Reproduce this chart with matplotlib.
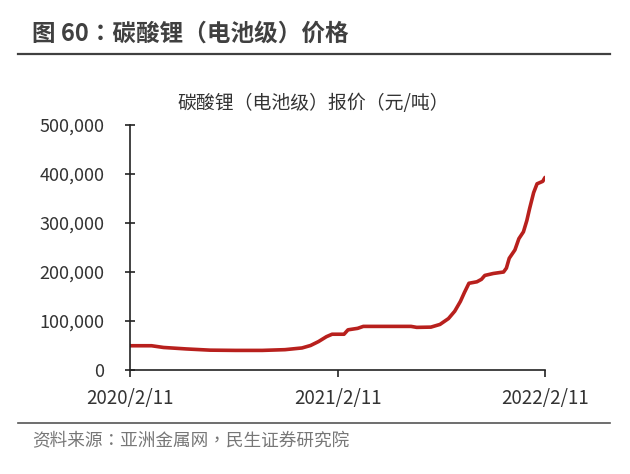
import matplotlib
matplotlib.use("Agg")
import matplotlib.pyplot as plt
import pandas as pd

plt.rcParams['font.family'] = ['Noto Sans CJK TC', 'DejaVu Sans']

dates = ["2020-02-11", "2020-03-20", "2020-04-10", "2020-05-20", "2020-07-01",
         "2020-08-15", "2020-10-01", "2020-11-10", "2020-12-10", "2020-12-25",
         "2021-01-08", "2021-01-22", "2021-02-01", "2021-02-22", "2021-03-01",
         "2021-03-18", "2021-03-28", "2021-06-20", "2021-06-30", "2021-07-25",
         "2021-08-10", "2021-08-25", "2021-09-05", "2021-09-15", "2021-09-22",
         "2021-09-30", "2021-10-14", "2021-10-22", "2021-10-28", "2021-11-12",
         "2021-11-30", "2021-12-05", "2021-12-10", "2021-12-20", "2021-12-27",
         "2022-01-04", "2022-01-10", "2022-01-15", "2022-01-22", "2022-01-28",
         "2022-02-07", "2022-02-11"]
prices = [49500, 49500, 46000, 43000, 40500,
          40000, 40000, 41500, 45000, 50000,
          58000, 68000, 73000, 73000, 82000,
          85000, 89000, 89000, 87000, 87500,
          93000, 105000, 120000, 140000, 158000,
          177000, 180000, 185000, 193000, 197000,
          200000, 208000, 228000, 245000, 268000,
          282000, 305000, 330000, 362000, 380000,
          385000, 393000]
xtick_labels = ["2020/2/11", "2021/2/11", "2022/2/11"]
xtick_dates = ["2020-02-11", "2021-02-11", "2022-02-11"]
yticks = [0, 100000, 200000, 300000, 400000, 500000]

title = "图 60：碳酸锂（电池级）价格"
chart_title = "碳酸锂（电池级）报价（元/吨）"
source = "资料来源：亚洲金属网，民生证券研究院"

d = pd.to_datetime(dates)
xt = pd.to_datetime(xtick_dates)

fig = plt.figure(figsize=(6.3, 4.74), dpi=100)
ax = fig.add_axes([130/630, 1-370/474, (545-130)/630, (370-125)/474])

ax.plot(d, prices, color='#B8201D', lw=2.6, solid_capstyle='round', solid_joinstyle='round')
ax.set_xlim(xt[0], xt[-1])
ax.set_ylim(0, 500000)
ax.set_yticks(yticks)
ax.set_yticklabels([f"{v:,}" for v in yticks])
ax.set_xticks(xt)
ax.set_xticklabels(xtick_labels)

for s in ['top', 'right']:
    ax.spines[s].set_visible(False)
for s in ['left', 'bottom']:
    ax.spines[s].set_linewidth(1.2)
    ax.spines[s].set_color('#222222')
    ax.spines[s].set_clip_on(False)

ax.tick_params(axis='y', direction='inout', length=7, width=1.2, pad=15,
               labelsize=13, labelcolor='#333333', color='#222222')
ax.tick_params(axis='x', direction='out', length=5, width=1.2, pad=8,
               labelsize=13.5, labelcolor='#333333', color='#222222')

fig.text(32/630, 1-34/474, title, fontsize=17, fontweight='bold', color='#404040',
         ha='left', va='center')
fig.add_artist(plt.Line2D([18/630, 610/630], [1-54/474, 1-54/474], color='#404040', lw=1.6))
fig.text(313/630, 1-103/474, chart_title, fontsize=13.6, color='#333333', ha='center', va='center')
fig.add_artist(plt.Line2D([18/630, 610/630], [1-423/474, 1-423/474], color='#555555', lw=1.2))
fig.text(32/630, 1-441/474, source, fontsize=12.7, color='#777777', ha='left', va='center')

fig.savefig("out.png", dpi=100, facecolor='white')
